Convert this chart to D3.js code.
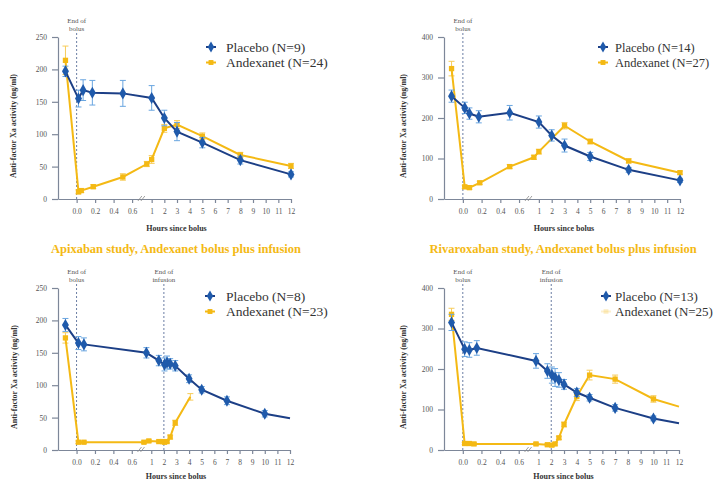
<!DOCTYPE html>
<html>
<head>
<meta charset="utf-8">
<script src="https://cdn.jsdelivr.net/npm/d3@7"></script>
<style>
body { margin: 0; background: #fff; }
svg text { font-family: "Liberation Serif", "DejaVu Serif", serif; }
</style>
</head>
<body>
<div id="chart"></div>
<script>
// Anti-factor Xa activity (ng/ml) by hours since bolus; -0.12 = pre-dose sample

// apixaban, bolus only
const apixBolusPlaceboHours = [-0.12, 0.02, 0.07, 0.17, 0.5, 1, 2, 3, 5, 8, 12];
const apixBolusPlacebo = [197, 155, 168, 164, 163, 156, 125, 104, 87, 60, 38];
const apixBolusPlaceboErr = [8, 13, 16, 19, 20, 19, 12, 14, 8, 6, 4];
const apixBolusAndexHours = [-0.12, 0.02, 0.05, 0.18, 0.5, 0.9, 1, 2, 3, 5, 8, 12];
const apixBolusAndex = [214, 11, 13, 19, 34, 54, 61, 109, 115, 97, 68, 51];
const apixBolusAndexErr = [22, 3, 3, 3, 5, 4, 6, 6, 6, 5, 4, 4];

// rivaroxaban, bolus only
const rivaBolusPlaceboHours = [-0.12, 0.02, 0.07, 0.17, 0.5, 1, 2, 3, 5, 8, 12];
const rivaBolusPlacebo = [254, 225, 211, 203, 213, 190, 157, 132, 105, 72, 46];
const rivaBolusPlaceboErr = [15, 14, 14, 15, 18, 15, 14, 16, 10, 6, 5];
const rivaBolusAndexHours = [-0.12, 0.02, 0.07, 0.18, 0.5, 0.9, 1, 3, 5, 8, 12];
const rivaBolusAndex = [322, 30, 28, 40, 80, 103, 117, 181, 142, 94, 65];
const rivaBolusAndexErr = [18, 4, 4, 4, 5, 5, 6, 8, 6, 5, 4];

// apixaban, bolus plus infusion
const apixInfPlaceboHours = [-0.12, 0.02, 0.08, 0.9, 1.6, 2.05, 2.25, 2.5, 2.9, 4, 5, 7, 10, 12];
const apixInfPlacebo = [193, 165, 163, 150, 138, 132, 135, 133, 130, 110, 93, 76, 56, 49];
const apixInfPlaceboErr = [10, 10, 10, 8, 8, 10, 10, 8, 8, 6, 5, 6, 5, 0];
const apixInfAndexHours = [-0.12, 0.02, 0.08, 0.85, 0.95, 1.6, 1.9, 2.05, 2.25, 2.5, 2.9, 4.1];
const apixInfAndex = [173, 12, 12, 12, 14, 13, 13, 12, 13, 20, 42, 82];
const apixInfAndexErr = [8, 2, 2, 2, 2, 2, 2, 2, 2, 3, 4, 5];

// rivaroxaban, bolus plus infusion
const rivaInfPlaceboHours = [-0.12, 0.02, 0.07, 0.15, 0.95, 1.7, 2.05, 2.3, 2.6, 3, 4, 5, 7, 10, 12];
const rivaInfPlacebo = [315, 249, 247, 252, 220, 195, 185, 179, 173, 162, 142, 129, 104, 78, 66];
const rivaInfPlaceboErr = [20, 18, 18, 18, 18, 18, 20, 22, 18, 12, 10, 8, 8, 6, 0];
const rivaInfAndexHours = [-0.12, 0.02, 0.07, 0.12, 0.95, 1.7, 2.05, 2.3, 2.6, 3, 4, 5, 7, 10, 12];
const rivaInfAndex = [335, 16, 16, 15, 15, 13, 12, 15, 30, 63, 132, 185, 175, 126, 107];
const rivaInfAndexErr = [15, 3, 3, 3, 3, 3, 3, 3, 4, 6, 10, 12, 10, 8, 0];

const xTicks = [0, 0.2, 0.4, 0.6, 1, 2, 3, 4, 5, 6, 7, 8, 9, 10, 11, 12];
const yTicksApix = [0, 50, 100, 150, 200, 250];
const yTicksRiva = [0, 100, 200, 300, 400];

const sectionTitles = ["Apixaban study, Andexanet bolus plus infusion",
                       "Rivaroxaban study, Andexanet bolus plus infusion"];

const SERIF = "'Liberation Serif', 'DejaVu Serif', serif";
const BLUE_LINE = "#1c3f86", BLUE_DOT = "#1f5aab", BLUE_ERR = "#6aa6e0";
const GOLD = "#f4b914", GOLD_ERR = "#f7cc5a";

const W = 713, H = 481;
const svg = d3.select("#chart").append("svg").attr("width", W).attr("height", H);

function series(hours, vals, errs) {
    return hours.map((h, i) => ({ h: h, v: vals[i], e: errs[i] }));
}

const panels = [
    { left: 58, right: 291, top: 37, bottom: 199, yMax: 250, yTicks: yTicksApix, tail: false,
      placebo: series(apixBolusPlaceboHours, apixBolusPlacebo, apixBolusPlaceboErr),
      andex: series(apixBolusAndexHours, apixBolusAndex, apixBolusAndexErr),
      legend: ["Placebo (N=9)", "Andexanet (N=24)"], legX: 211, legTextX: 226, legY: 47, legSize: 13.5, legFaint: false,
      markers: [{ h: 0, label: ["End of", "bolus"] }], ylabX: 16, xlabY: 231 },
    { left: 444, right: 680, top: 37, bottom: 199, yMax: 400, yTicks: yTicksRiva, tail: false,
      placebo: series(rivaBolusPlaceboHours, rivaBolusPlacebo, rivaBolusPlaceboErr),
      andex: series(rivaBolusAndexHours, rivaBolusAndex, rivaBolusAndexErr),
      legend: ["Placebo (N=14)", "Andexanet (N=27)"], legX: 603, legTextX: 615, legY: 47, legSize: 12.5, legFaint: false,
      markers: [{ h: 0, label: ["End of", "bolus"] }], ylabX: 406, xlabY: 231 },
    { left: 58, right: 290, top: 288, bottom: 450, yMax: 250, yTicks: yTicksApix, tail: true,
      placebo: series(apixInfPlaceboHours, apixInfPlacebo, apixInfPlaceboErr),
      andex: series(apixInfAndexHours, apixInfAndex, apixInfAndexErr),
      legend: ["Placebo (N=8)", "Andexanet (N=23)"], legX: 210, legTextX: 226, legY: 296, legSize: 13.5, legFaint: false,
      markers: [{ h: 0, label: ["End of", "bolus"] }, { h: 2, label: ["End of", "infusion"] }],
      ylabX: 17, xlabY: 479 },
    { left: 444, right: 679, top: 288, bottom: 450, yMax: 400, yTicks: yTicksRiva, tail: true,
      placebo: series(rivaInfPlaceboHours, rivaInfPlacebo, rivaInfPlaceboErr),
      andex: series(rivaInfAndexHours, rivaInfAndex, rivaInfAndexErr),
      legend: ["Placebo (N=13)", "Andexanet (N=25)"], legX: 606, legTextX: 615, legY: 296, legSize: 13, legFaint: true,
      markers: [{ h: 0, label: ["End of", "bolus"] }, { h: 2, label: ["End of", "infusion"] }],
      ylabX: 406, xlabY: 479 }
];

// section titles between the two rows
svg.selectAll("text.section")
    .data(sectionTitles)
    .enter()
    .append("text")
    .attr("class", "section")
    .attr("x", (d, i) => i === 0 ? 176 : 563)
    .attr("y", 253)
    .attr("text-anchor", "middle")
    .style("font-family", SERIF)
    .style("font-size", "12.5px")
    .style("font-weight", "bold")
    .style("fill", GOLD)
    .text(d => d);

panels.forEach(function(p) {
    let g = svg.append("g");
    // broken axis: pre-dose, 0-0.6 h stretched, then 1-12 h
    let frac = [0, 0.032, 0.080, 0.318, 0.402, 1];
    let x = d3.scaleLinear()
        .domain([-0.25, -0.12, 0, 0.6, 1, 12])
        .range(frac.map(f => p.left + f * (p.right - p.left)));
    let y = d3.scaleLinear().domain([0, p.yMax]).range([p.bottom, p.top]);

    let yAxis = d3.axisLeft(y).tickValues(p.yTicks).tickSize(6).tickSizeOuter(0).tickPadding(5);
    let xAxis = d3.axisBottom(x).tickValues(xTicks).tickSize(4).tickSizeOuter(0).tickPadding(6)
        .tickFormat(d => d < 1 ? d.toFixed(1) : d);

    g.append("g").attr("transform", "translate(" + p.left + ",0)").call(yAxis);
    g.append("g").attr("transform", "translate(0," + p.bottom + ")").call(xAxis);
    g.selectAll(".domain, .tick line").attr("stroke", "#7d8799").attr("stroke-width", 1.2);
    g.selectAll(".tick text").style("font-size", "7.5px").style("font-family", SERIF).style("fill", "#555");

    // axis break
    let bx = x(0.8);
    g.append("path")
        .attr("d", "M" + (bx - 4) + "," + (p.bottom + 2) + "l4,-5 M" + (bx - 1) + "," + (p.bottom + 2) + "l4,-5")
        .attr("stroke", "#888").attr("fill", "none").attr("stroke-width", 0.8);

    // end of bolus / infusion markers
    p.markers.forEach(function(m) {
        g.append("line")
            .attr("x1", x(m.h)).attr("x2", x(m.h))
            .attr("y1", p.top - 4).attr("y2", p.bottom)
            .attr("stroke", "#5a6f9a").attr("stroke-width", 0.9)
            .attr("stroke-dasharray", "2,2");
        m.label.forEach(function(t, k) {
            g.append("text")
                .attr("x", x(m.h)).attr("y", p.top - 14 + k * 8)
                .attr("text-anchor", "middle")
                .style("font-family", SERIF)
                .style("font-size", "7px").style("fill", "#555")
                .text(t);
        });
    });

    // axis titles
    g.append("text")
        .attr("transform", "translate(" + p.ylabX + "," + ((p.top + p.bottom) / 2 + 8) + ") rotate(-90)")
        .attr("text-anchor", "middle")
        .style("font-family", SERIF)
        .style("font-size", "8px").style("font-weight", "bold").style("fill", "#333")
        .text("Anti-factor Xa activity (ng/ml)");
    g.append("text")
        .attr("x", (p.left + p.right) / 2 + 2).attr("y", p.xlabY)
        .attr("text-anchor", "middle")
        .style("font-family", SERIF)
        .style("font-size", "8px").style("font-weight", "bold").style("fill", "#333")
        .text("Hours since bolus");

    let line = d3.line().x(d => x(d.h)).y(d => y(d.v));

    function drawSeries(data, lineColor, dotColor, errColor, symbol, size) {
        let withErr = data.filter(d => d.e > 0);
        g.selectAll(null).data(withErr).enter().append("line")
            .attr("x1", d => x(d.h)).attr("x2", d => x(d.h))
            .attr("y1", d => y(d.v - d.e)).attr("y2", d => y(d.v + d.e))
            .attr("stroke", errColor).attr("stroke-width", 1);
        [-1, 1].forEach(function(s) {
            g.selectAll(null).data(withErr).enter().append("line")
                .attr("x1", d => x(d.h) - 3).attr("x2", d => x(d.h) + 3)
                .attr("y1", d => y(d.v + s * d.e)).attr("y2", d => y(d.v + s * d.e))
                .attr("stroke", errColor).attr("stroke-width", 1);
        });
        g.append("path").datum(data)
            .attr("d", line)
            .attr("fill", "none").attr("stroke", lineColor).attr("stroke-width", 2);
        let pts = p.tail ? data.slice(0, -1) : data;
        g.selectAll(null).data(pts).enter().append("path")
            .attr("transform", d => "translate(" + x(d.h) + "," + y(d.v) + ")")
            .attr("d", d3.symbol().type(symbol).size(size))
            .attr("fill", dotColor);
    }

    drawSeries(p.andex, GOLD, GOLD, GOLD_ERR, d3.symbolSquare, 28);
    drawSeries(p.placebo, BLUE_LINE, BLUE_DOT, BLUE_ERR, d3.symbolDiamond, 42);

    // legend
    let leg = g.append("g");
    [[BLUE_LINE, BLUE_DOT, d3.symbolDiamond, 36], [GOLD, GOLD, d3.symbolSquare, 24]].forEach(function(s, i) {
        let ly = p.legY + i * 15.5;
        let op = (i === 1 && p.legFaint) ? 0.2 : 1;
        leg.append("line")
            .attr("x1", p.legX - 5).attr("x2", p.legX + 5)
            .attr("y1", ly).attr("y2", ly)
            .attr("stroke", s[0]).attr("stroke-width", 2).attr("opacity", op);
        leg.append("path")
            .attr("transform", "translate(" + p.legX + "," + ly + ")")
            .attr("d", d3.symbol().type(s[2]).size(s[3]))
            .attr("fill", s[1]).attr("opacity", op);
        leg.append("text")
            .attr("x", p.legTextX).attr("y", ly + 4.5)
            .style("font-family", SERIF)
            .style("font-size", p.legSize + "px").style("fill", "#333")
            .text(p.legend[i]);
    });
});
</script>
</body>
</html>
